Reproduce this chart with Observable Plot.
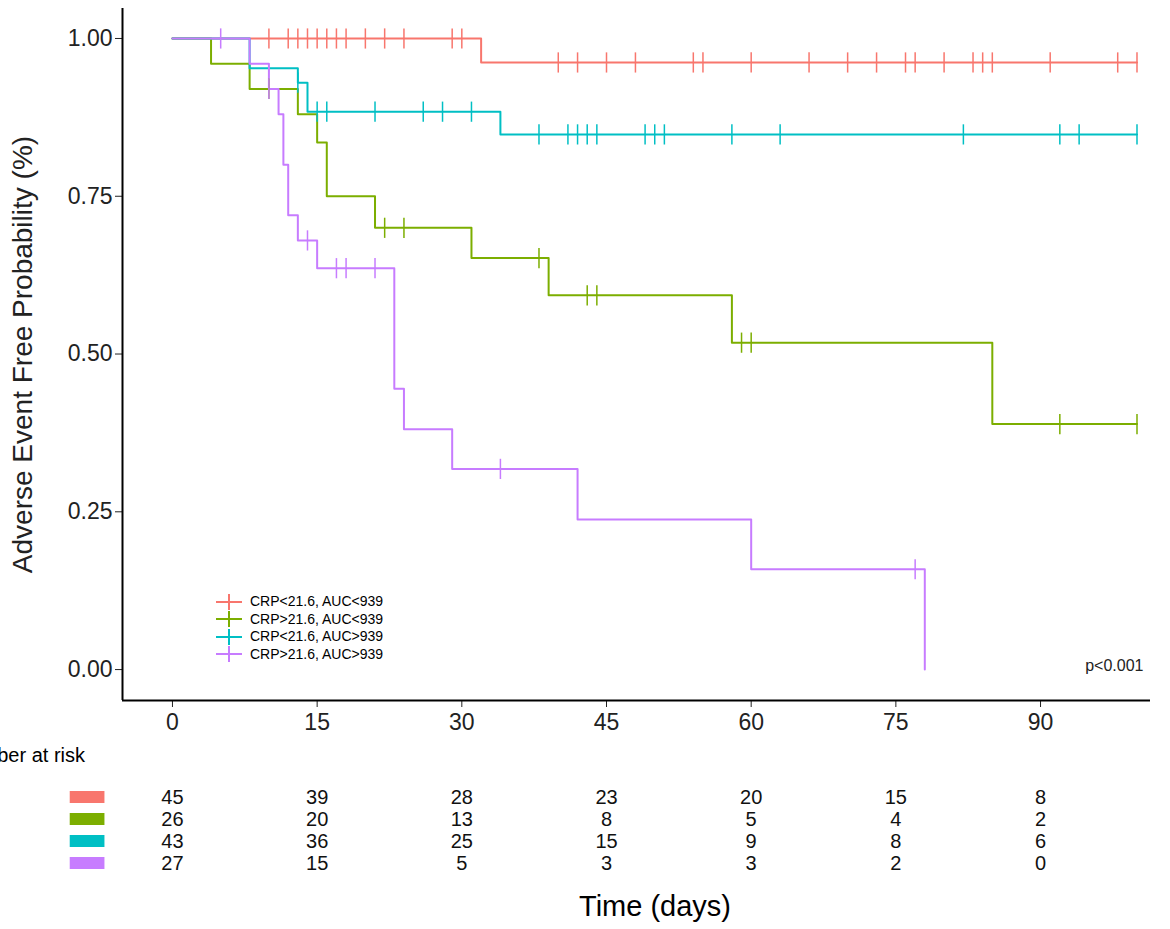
<!DOCTYPE html>
<html><head><meta charset="utf-8">
<script src="https://cdn.jsdelivr.net/npm/d3@7"></script>
<script src="https://cdn.jsdelivr.net/npm/@observablehq/plot@0.6"></script>
<style>
body{margin:0;width:1170px;height:929px;overflow:hidden;font-family:Arial,"Liberation Sans",sans-serif;position:relative;background:#fff}
#legend{position:absolute;left:216px;top:593px;font-size:14px;line-height:17.5px}
#legend div{display:flex;align-items:center}
#legend span.k{display:inline-block;width:26px;height:2px;margin-right:8px;position:relative}
#legend span.k:after{content:"";position:absolute;left:12px;top:-7px;width:2px;height:16px;background:inherit}
#nar{position:absolute;left:-45px;top:744px;font-size:20px}
#xt{position:absolute;left:0;width:1310px;text-align:center;top:890px;font-size:29px}
</style></head><body>
<div id="main"></div>
<div id="table"></div>
<div id="legend"></div>
<div id="nar">Number at risk</div>
<div id="xt">Time (days)</div>
<script>
const groups = ["CRP<21.6, AUC<939", "CRP>21.6, AUC<939", "CRP<21.6, AUC>939", "CRP>21.6, AUC>939"];
const colors = ["#F8766D", "#7CAE00", "#00BFC4", "#C77CFF"];
const endTime = [100, 100, 100, 78];

// step curves: event times and survival after each
const stepTimes = [
  [0, 32],
  [0, 4, 8, 13, 15, 16, 21, 31, 39, 58, 85],
  [0, 8, 13, 14, 34],
  [0, 8, 10, 11, 11.5, 12, 13, 15, 23, 24, 29, 42, 60, 78]
];
const stepSurv = [
  [1, 0.962],
  [1, 0.96, 0.92, 0.88, 0.835, 0.75, 0.70, 0.652, 0.593, 0.518, 0.389],
  [1, 0.953, 0.93, 0.884, 0.848],
  [1, 0.96, 0.92, 0.88, 0.80, 0.72, 0.68, 0.636, 0.445, 0.381, 0.318, 0.238, 0.159, 0]
];
// censor marks
const censorTimes = [
  [10, 12, 13, 14, 15, 16, 17, 18, 20, 22, 24, 29, 30, 40, 42, 45, 48, 54, 55, 60, 66, 70, 73, 76, 77, 80, 83, 84, 85, 91, 98, 100],
  [10, 22, 24, 38, 43, 44, 59, 60, 92, 100],
  [13, 15, 16, 21, 26, 28, 31, 38, 41, 42, 43, 44, 49, 50, 51, 58, 63, 82, 92, 94, 100],
  [5, 10, 14, 17, 18, 21, 34, 77]
];
const riskTimes = [0, 15, 30, 45, 60, 75, 90];
const riskCounts = [
  [45, 39, 28, 23, 20, 15, 8],
  [26, 20, 13, 8, 5, 4, 2],
  [43, 36, 25, 15, 9, 8, 6],
  [27, 15, 5, 3, 3, 2, 0]
];

function survAt(g, t) {
  let s = 1;
  stepTimes[g].forEach((x, i) => { if (x <= t) s = stepSurv[g][i]; });
  return s;
}
const lines = [], cens = [], risk = [];
groups.forEach((name, g) => {
  stepTimes[g].forEach((t, i) => lines.push({g: name, t, s: stepSurv[g][i]}));
  lines.push({g: name, t: endTime[g], s: stepSurv[g][stepSurv[g].length - 1]});
  censorTimes[g].forEach(t => cens.push({g: name, t, s: survAt(g, t)}));
  riskTimes.forEach((t, i) => risk.push({g: name, t, n: riskCounts[g][i]}));
});

const xDomain = [-5.18, 101.4];
const color = {domain: groups, range: colors};

const chart = Plot.plot({
  width: 1170, height: 740,
  marginLeft: 122, marginRight: 20, marginTop: 8, marginBottom: 40,
  style: {fontSize: "23px", fontFamily: "Arial, 'Liberation Sans', sans-serif", color: "#222"},
  x: {domain: xDomain, ticks: riskTimes, tickSize: 7, tickPadding: 6, label: null, tickFormat: d => d},
  y: {domain: [-0.049, 1.0475]},
  color,
  marks: [
    Plot.axisY({ticks: [0, 0.25, 0.5, 0.75, 1], tickFormat: d3.format(".2f"), tickSize: 7,
      label: "Adverse Event Free Probability (%)", labelAnchor: "center", labelOffset: 110, labelArrow: "none"}),
    Plot.ruleX([xDomain[0]], {stroke: "#000", strokeWidth: 2}),
    Plot.ruleY([-0.049], {stroke: "#000", strokeWidth: 2}),
    Plot.line(lines, {x: "t", y: "s", z: "g", stroke: "g", curve: "step-after", strokeWidth: 2}),
    Plot.link(cens, {x1: "t", x2: "t", y1: d => d.s - 0.016, y2: d => d.s + 0.016, stroke: "g", strokeWidth: 1.5}),
    Plot.text(["p<0.001"], {frameAnchor: "bottom-right", dx: -7, dy: -30, fontSize: 16, fill: "#222"})
  ]
});
chart.querySelectorAll("text").forEach(t => { if (t.textContent.startsWith("Adverse")) t.style.fontSize = "28px"; });
document.getElementById("main").append(chart);

const table = Plot.plot({
  width: 1170, height: 189,
  marginLeft: 122, marginRight: 20, marginTop: 46, marginBottom: 55,
  style: {fontSize: "20px", fontFamily: "Arial, 'Liberation Sans', sans-serif"},
  x: {domain: xDomain, axis: null},
  y: {domain: groups, axis: null, padding: 0},
  color,
  marks: [
    Plot.text(risk, {x: "t", y: "g", text: "n", fill: "#111", fontSize: 20}),
    Plot.rect(groups, {y: d => d, fill: d => d, x1: () => -10.6, x2: () => -7, insetTop: 5, insetBottom: 5})
  ]
});
document.getElementById("table").append(table);

const leg = document.getElementById("legend");
groups.forEach((g, i) => {
  const row = document.createElement("div");
  row.innerHTML = `<span class="k" style="background:${colors[i]}"></span>${g.replace(/</g, "&lt;")}`;
  leg.append(row);
});
</script>
</body></html>
